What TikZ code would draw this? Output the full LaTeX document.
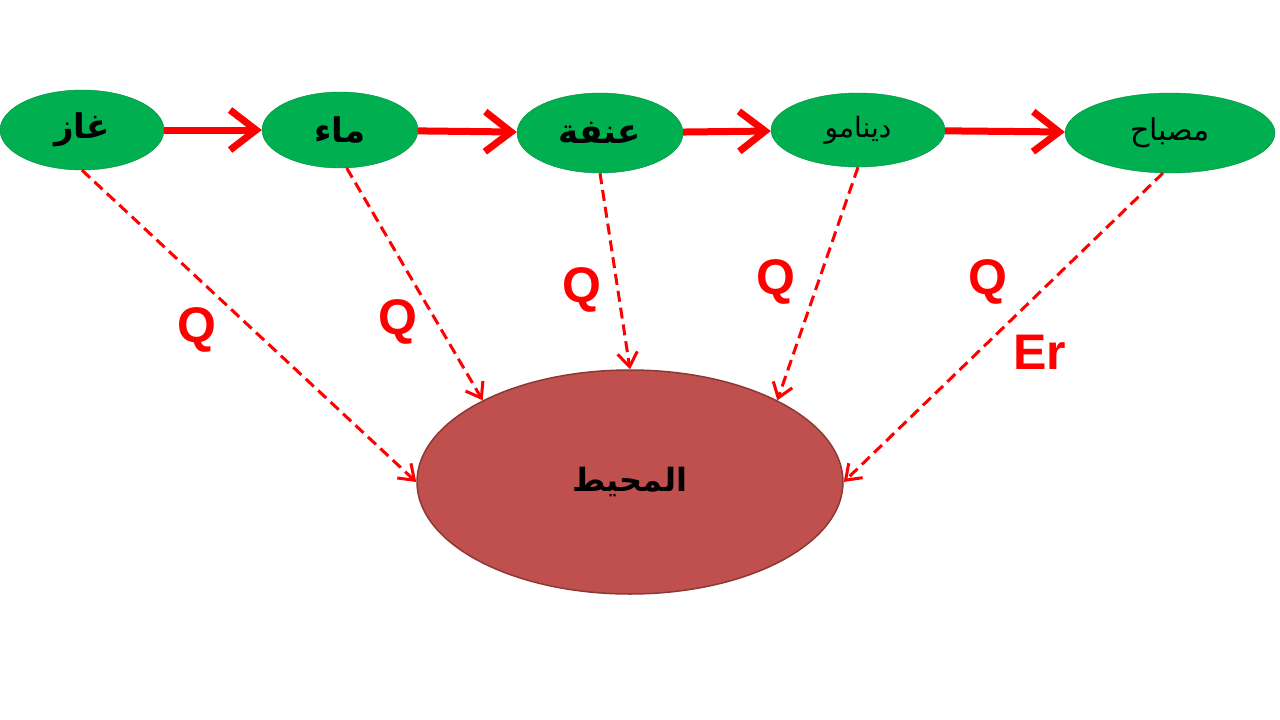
\documentclass[tikz,border=0pt]{standalone}
\usepackage{fontspec}
\setmainfont{Liberation Sans}
\newfontfamily\arabicfont[Script=Arabic]{DejaVu Sans}
\TeXXeTstate=1
\usetikzlibrary{arrows.meta,shapes.geometric}
\definecolor{gr}{HTML}{00B050}
\definecolor{env}{HTML}{C0504D}
\definecolor{envb}{HTML}{8C3836}
\tikzset{
 st/.style={ellipse,fill=gr,draw=gr!80!black,inner sep=0pt,font=\arabicfont\bfseries\fontsize{34}{34}\selectfont},
 flow/.style={red,line width=7pt,-{Straight Barb[length=26pt,width=40pt,line width=7pt]}},
 heat/.style={red,line width=3pt,dash pattern=on 11pt off 6pt,-{Straight Barb[length=14pt,width=20pt,line width=3pt]}},
 lab/.style={red,font=\bfseries\fontsize{50}{50}\selectfont}
}
\begin{document}
\begin{tikzpicture}[x=1pt,y=-1pt]
\useasboundingbox (0,0) rectangle (1280,720);
\node[st,minimum width=164pt,minimum height=80pt] (gas) at (82,130) {\beginR غاز\endR};
\node[st,minimum width=156pt,minimum height=76pt] (water) at (340,130) {\beginR ماء\endR};
\node[st,minimum width=166pt,minimum height=80pt] (steam) at (600,133) {\beginR عنفة\endR};
\node[st,minimum width=174pt,minimum height=74pt,font=\arabicfont\fontsize{28}{28}\selectfont] (dyn) at (858,130) {\beginR دينامو\endR};
\node[st,minimum width=210pt,minimum height=80pt,font=\arabicfont\fontsize{30}{30}\selectfont] (lamp) at (1170,133) {\beginR مصباح\endR};
\node[ellipse,fill=env,draw=envb,line width=1.5pt,minimum width=426pt,minimum height=224pt,font=\arabicfont\bfseries\fontsize{32}{32}\selectfont] (envn) at (630,482) {\beginR المحيط\endR};
\draw[flow] (gas) -- (water);
\draw[flow] (water) -- (steam);
\draw[flow] (steam) -- (dyn);
\draw[flow] (dyn) -- (lamp);
\draw[heat] (gas.south) -- (envn.west);
\draw[heat] (water.-80) -- (envn.151);
\draw[heat] (steam.south) -- (envn.north);
\draw[heat] (dyn.south) -- (envn.29);
\draw[heat] (lamp.-100) -- (envn.east);
\node[lab] (q1) at (197,330) {Q};
\node[lab] (q2) at (398,322) {Q};
\node[lab] (q3) at (582,290) {Q};
\node[lab] (q4) at (776,282) {Q};
\node[lab] (q5) at (988,282) {Q};
\node[lab] (er) at (1040,352) {Er};
\end{tikzpicture}
\end{document}
